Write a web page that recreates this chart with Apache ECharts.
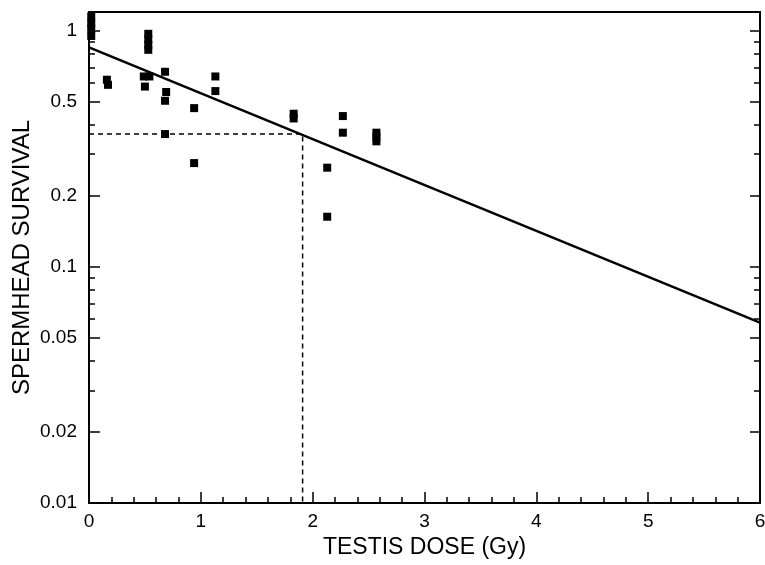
<!DOCTYPE html>
<html>
<head>
<meta charset="utf-8">
<title>Spermhead survival vs testis dose</title>
<script src="https://cdn.jsdelivr.net/npm/echarts@6/dist/echarts.min.js"></script>
<style>
    html, body { margin: 0; padding: 0; background: #fff; }
    #chart { width: 765px; height: 565px; }
</style>
</head>
<body>
<div id="chart"></div>
<script>
// measured points (dose in Gy, fraction surviving)
const doses = [
    0.02, 0.02, 0.02, 0.02,
    0.16, 0.17,
    0.49, 0.54, 0.50,
    0.53, 0.53, 0.53, 0.53,
    0.68, 0.69, 0.68, 0.68,
    0.94, 0.94,
    1.13, 1.13,
    1.83, 1.83,
    2.13, 2.13,
    2.27, 2.27,
    2.57, 2.57, 2.57
];
const survival = [
    1.15, 1.08, 1.02, 0.95,
    0.62, 0.59,
    0.64, 0.64, 0.58,
    0.97, 0.92, 0.87, 0.83,
    0.67, 0.55, 0.505, 0.365,
    0.47, 0.275,
    0.64, 0.555,
    0.445, 0.425,
    0.263, 0.163,
    0.435, 0.37,
    0.37, 0.355, 0.34
];

// fitted line, end points
const fitDose = [0, 6];
const fitSurvival = [0.85, 0.058];

// dashed guide: D37 read-off
const guideDose = [0, 1.91, 1.91];
const guideSurvival = [0.365, 0.365, 0.01];

const yMajor = [0.01, 0.02, 0.05, 0.1, 0.2, 0.5, 1];
const yMinor = [0.03, 0.04, 0.06, 0.07, 0.08, 0.09, 0.3, 0.4, 0.6, 0.7, 0.8, 0.9];

var chartDom = document.getElementById('chart');
var myChart = echarts.init(chartDom);
var option;

const font = 'Liberation Sans, Arial, Helvetica, sans-serif';
const black = '#000';

function logAxis(position, ticks, len, withLabel) {
    return {
        type: 'log',
        logBase: 10,
        min: 0.01,
        max: 1.2,
        position: position,
        axisLine: { show: withLabel, onZero: false, lineStyle: { color: black, width: 2 } },
        axisTick: { show: true, inside: true, length: len, customValues: ticks, lineStyle: { color: black, width: 1.5 } },
        axisLabel: withLabel && position === 'left' ? {
            show: true, customValues: yMajor, margin: 12,
            color: black, fontFamily: font, fontSize: 19,
            formatter: function (v) { return String(+v.toPrecision(3)); }
        } : { show: false },
        splitLine: { show: false },
        minorTick: { show: false }
    };
}

const pairs = (xs, ys) => xs.map((x, i) => [x, ys[i]]);

option = {
    animation: false,
    backgroundColor: '#fff',
    grid: { left: 89, right: 5, top: 12, bottom: 62, containLabel: false, outerBoundsMode: 'none' },
    xAxis: [
        {
            type: 'value',
            min: 0,
            max: 6,
            interval: 1,
            position: 'bottom',
            name: 'TESTIS DOSE (Gy)',
            nameLocation: 'middle',
            nameGap: 33,
            nameMoveOverlap: false,
            nameTextStyle: { color: black, fontFamily: font, fontSize: 23 },
            axisLine: { onZero: false, lineStyle: { color: black, width: 2 } },
            axisTick: { inside: true, length: 11, lineStyle: { color: black, width: 1.5 } },
            minorTick: { show: true, splitNumber: 5, length: 6, lineStyle: { color: black, width: 1.5 } },
            axisLabel: { margin: 9, color: black, fontFamily: font, fontSize: 19 },
            splitLine: { show: false }
        },
        {
            type: 'value',
            min: 0,
            max: 6,
            position: 'top',
            axisLine: { onZero: false, lineStyle: { color: black, width: 2 } },
            axisTick: { show: false },
            axisLabel: { show: false },
            splitLine: { show: false }
        }
    ],
    yAxis: [
        Object.assign(logAxis('left', yMajor, 11, true), {
            name: 'SPERMHEAD SURVIVAL',
            nameLocation: 'middle',
            nameGap: 55,
            nameMoveOverlap: false,
            nameTextStyle: { color: black, fontFamily: font, fontSize: 24 }
        }),
        logAxis('left', yMinor, 6, false),
        logAxis('right', yMajor, 10, true),
        logAxis('right', yMinor, 6, false)
    ],
    series: [
        {
            name: 'guide',
            type: 'line',
            data: pairs(guideDose, guideSurvival),
            symbol: 'none',
            lineStyle: { color: black, width: 1.5, type: [5, 4] },
            silent: true,
            z: 1
        },
        {
            name: 'fit',
            type: 'line',
            data: pairs(fitDose, fitSurvival),
            symbol: 'none',
            lineStyle: { color: black, width: 2.5 },
            silent: true,
            z: 2
        },
        {
            name: 'survival',
            type: 'scatter',
            data: pairs(doses, survival),
            symbol: 'rect',
            symbolSize: [8, 8],
            itemStyle: { color: black, opacity: 1 },
            z: 3
        }
    ]
};

option && myChart.setOption(option);
</script>
</body>
</html>
